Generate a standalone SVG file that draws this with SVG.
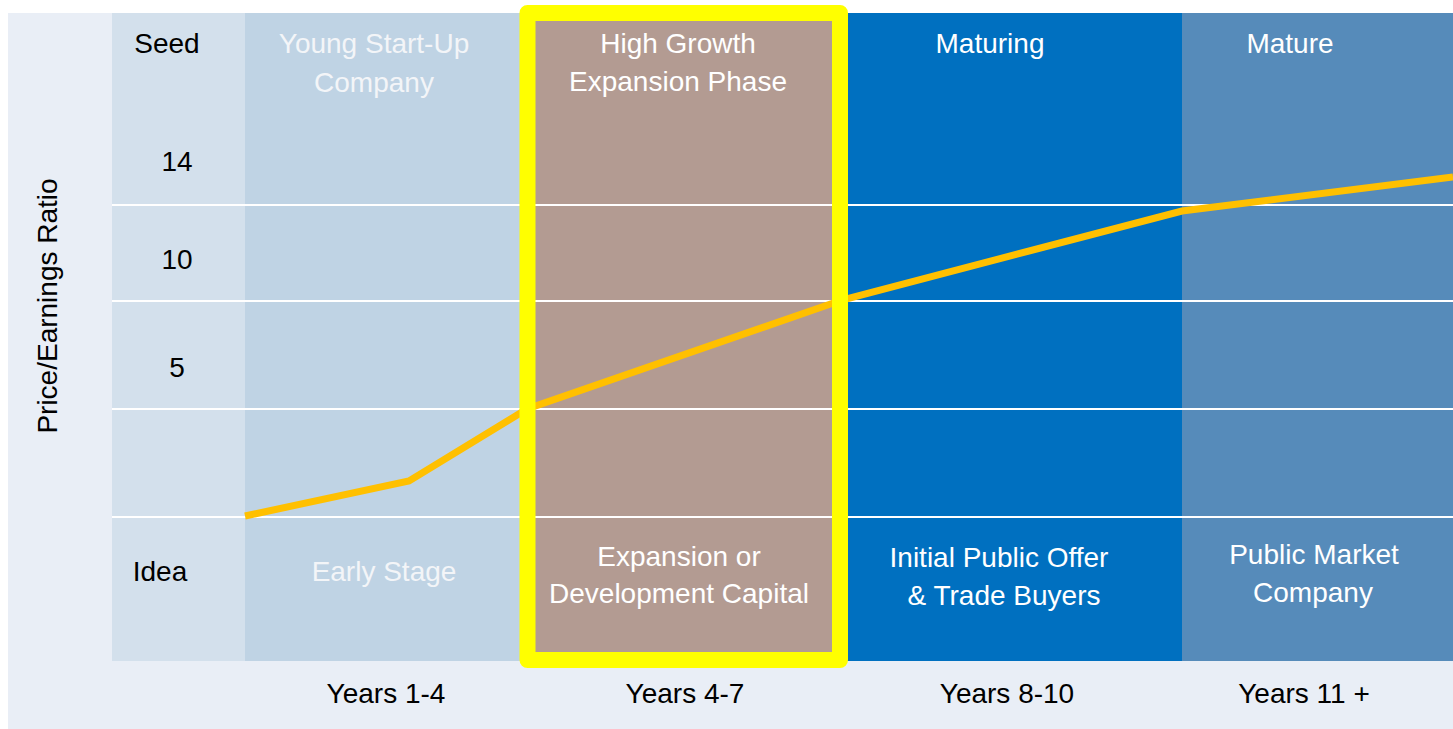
<svg xmlns="http://www.w3.org/2000/svg" width="1453" height="729" viewBox="0 0 1453 729">
  <style>
    text { font-family: "Liberation Sans", Arial, sans-serif; font-size: 28px; text-anchor: middle; }
    .dark { fill: #000000; }
    .light { fill: #ffffff; }
    .soft { fill: #f3f5f8; }
    .grid { stroke: #ffffff; stroke-width: 2; fill: none; }
    .curve { stroke: #ffc000; stroke-width: 7; fill: none; stroke-linejoin: miter; }
  </style>
  <rect x="0" y="0" width="1453" height="729" fill="#ffffff"/>
  <rect id="background" x="8" y="13" width="1445" height="716" fill="#e9eef6"/>

  <g id="axis-column">
    <rect x="112" y="13" width="133" height="648" fill="#d3e0ec"/>
    <text class="dark" x="167" y="53">Seed</text>
    <text class="dark" x="177" y="171">14</text>
    <text class="dark" x="177" y="269">10</text>
    <text class="dark" x="177" y="377">5</text>
    <text class="dark" x="160" y="581">Idea</text>
  </g>

  <g id="col-early">
    <rect x="245" y="13" width="283" height="648" fill="#bfd3e4"/>
  </g>
  <g id="col-growth">
    <rect x="527" y="13" width="313" height="648" fill="#b39b92"/>
  </g>
  <g id="col-maturing">
    <rect x="840" y="13" width="342" height="648" fill="#0070c0"/>
  </g>
  <g id="col-mature">
    <rect x="1182" y="13" width="271" height="648" fill="#568bba"/>
  </g>

  <g id="gridlines">
    <line class="grid" x1="112" y1="205" x2="1453" y2="205"/>
    <line class="grid" x1="112" y1="301" x2="1453" y2="301"/>
    <line class="grid" x1="112" y1="409" x2="1453" y2="409"/>
    <line class="grid" x1="112" y1="517" x2="1453" y2="517"/>
  </g>

  <g id="connectors">
    <polyline class="curve" points="245,516 409,481 527,409 842,300 1182,211 1453,177"/>
  </g>

  <g id="highlight">
    <rect x="527.5" y="13" width="312.5" height="647" fill="none" stroke="#ffff00" stroke-width="16" stroke-linejoin="round"/>
  </g>

  <g id="label-early">
    <text class="soft" x="374" y="53">Young Start-Up</text>
    <text class="soft" x="374" y="92">Company</text>
    <text class="soft" x="384" y="581">Early Stage</text>
  </g>
  <g id="label-growth">
    <text class="light" x="678" y="53">High Growth</text>
    <text class="light" x="678" y="91">Expansion Phase</text>
    <text class="light" x="679" y="566">Expansion or</text>
    <text class="light" x="679" y="603">Development Capital</text>
  </g>
  <g id="label-maturing">
    <text class="light" x="990" y="53">Maturing</text>
    <text class="light" x="999" y="567">Initial Public Offer</text>
    <text class="light" x="1004" y="605">&amp; Trade Buyers</text>
  </g>
  <g id="label-mature">
    <text class="light" x="1290" y="53">Mature</text>
    <text class="light" x="1314" y="564">Public Market</text>
    <text class="light" x="1313" y="602">Company</text>
  </g>

  <g id="x-axis">
    <text class="dark" x="386" y="703">Years 1-4</text>
    <text class="dark" x="685" y="703">Years 4-7</text>
    <text class="dark" x="1007" y="703">Years 8-10</text>
    <text class="dark" x="1304" y="703">Years 11 +</text>
  </g>

  <g id="y-axis">
    <text class="dark" transform="translate(57,306) rotate(-90)">Price/Earnings Ratio</text>
  </g>
</svg>
